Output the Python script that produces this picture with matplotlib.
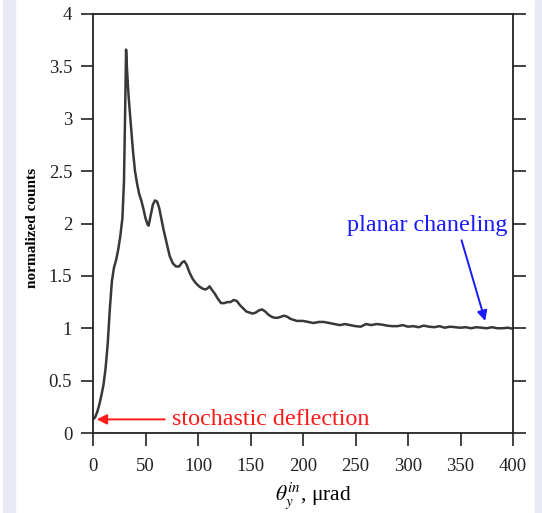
import matplotlib
matplotlib.use("Agg")
import matplotlib.pyplot as plt
from matplotlib.patches import Rectangle

# Angular distribution (theta_y^in in microrad) and normalized counts
theta = [0, 2, 4, 6, 8, 10, 12, 14, 16, 18, 20, 22, 24, 26, 28, 29.5, 30.5,
         31.5, 32.5, 34, 36, 38, 40, 42, 44, 46, 48, 50, 52, 53, 55, 57, 59,
         61, 63, 65, 67, 70, 73, 76, 79, 82, 85, 87, 89, 92, 95, 98, 101, 104,
         107, 109, 111, 113, 116, 119, 122, 125, 128, 131, 134, 137, 140, 143,
         146, 149, 152, 155, 158, 161, 164, 167, 170, 173, 176, 179, 182, 185,
         188, 191, 194, 197, 200, 205, 210, 215, 220, 225, 230, 235, 240, 245,
         250, 255, 260, 265, 270, 275, 280, 285, 290, 295, 300, 305, 310, 315,
         320, 325, 330, 335, 340, 345, 350, 355, 360, 365, 370, 375, 380, 385,
         390, 395, 400]
counts = [0.13, 0.15, 0.20, 0.27, 0.36, 0.46, 0.62, 0.85, 1.18, 1.45, 1.58,
          1.65, 1.75, 1.88, 2.05, 2.40, 3.00, 3.66, 3.45, 3.20, 2.95, 2.70,
          2.50, 2.38, 2.28, 2.22, 2.14, 2.05, 1.99, 1.98, 2.08, 2.18, 2.22,
          2.21, 2.15, 2.05, 1.95, 1.82, 1.69, 1.62, 1.59, 1.59, 1.63, 1.64,
          1.61, 1.53, 1.47, 1.43, 1.40, 1.38, 1.37, 1.38, 1.40, 1.37, 1.33,
          1.28, 1.24, 1.24, 1.25, 1.25, 1.27, 1.26, 1.22, 1.19, 1.16, 1.15,
          1.14, 1.15, 1.17, 1.18, 1.16, 1.13, 1.11, 1.10, 1.10, 1.11, 1.12,
          1.11, 1.09, 1.08, 1.07, 1.07, 1.07, 1.06, 1.05, 1.06, 1.06, 1.05,
          1.04, 1.03, 1.04, 1.03, 1.02, 1.015, 1.04, 1.03, 1.04, 1.035, 1.025,
          1.02, 1.02, 1.03, 1.015, 1.02, 1.01, 1.025, 1.015, 1.01, 1.02, 1.005,
          1.015, 1.01, 1.005, 1.01, 1.0, 1.01, 1.005, 1.0, 1.01, 1.0, 1.0,
          1.005, 0.995]

x_ticks = [0, 50, 100, 150, 200, 250, 300, 350, 400]
y_ticks = [0, 0.5, 1, 1.5, 2, 2.5, 3, 3.5, 4]
y_tick_labels = ["0", "0.5", "1", "1.5", "2", "2.5", "3", "3.5", "4"]

plt.rcParams["font.family"] = ["Liberation Serif", "DejaVu Serif"]
plt.rcParams["mathtext.fontset"] = "stix"

fig = plt.figure(figsize=(5.42, 5.13), dpi=100)
fig.patches.append(Rectangle((3 / 542, 0), 12 / 542, 1, transform=fig.transFigure,
                             color="#e9e9f5", zorder=0))
fig.patches.append(Rectangle((535 / 542, 0), 7 / 542, 1, transform=fig.transFigure,
                             color="#e9e9f5", zorder=0))

ax = fig.add_axes([93 / 542, 80 / 513, 420 / 542, 419 / 513])
ax.plot(theta, counts, color="#383838", lw=1.8)

ax.set_xlim(0, 400)
ax.set_ylim(0, 4)
ax.set_xticks(x_ticks)
ax.set_yticks(y_ticks)
ax.set_yticklabels(y_tick_labels)
for s in ax.spines.values():
    s.set_linewidth(1.3)
    s.set_color("#222222")
ax.tick_params(axis="both", direction="out", length=9, width=1.2,
               labelsize=13.5, colors="#222222")
ax.tick_params(axis="y", right=True, pad=6)
ax.tick_params(axis="x", pad=9)

ax.set_ylabel("normalized counts", fontsize=11, fontweight="bold")
ax.yaxis.set_label_coords(-0.128, 0.49)
ax.set_xlabel(r"$\theta_y^{in}$, μrad", fontsize=15.5)
ax.xaxis.set_label_coords(0.525, -0.112)

ax.annotate("stochastic deflection", xy=(3.5, 0.13), xytext=(75, 0.13),
            color="#ff1a1a", fontsize=17.4, va="center", ha="left",
            arrowprops=dict(arrowstyle="-|>", color="#ff1a1a", lw=1.4,
                            mutation_scale=15, shrinkA=3, shrinkB=0))
ax.text(241.5, 1.98, "planar chaneling", color="#1a1aff", fontsize=17.4,
        ha="left", va="center")
ax.annotate("", xy=(373.5, 1.07), xytext=(351, 1.84),
            arrowprops=dict(arrowstyle="-|>", color="#1a1aff", lw=1.4,
                            mutation_scale=15, shrinkA=0, shrinkB=0))

fig.savefig("out.png", dpi=100)
